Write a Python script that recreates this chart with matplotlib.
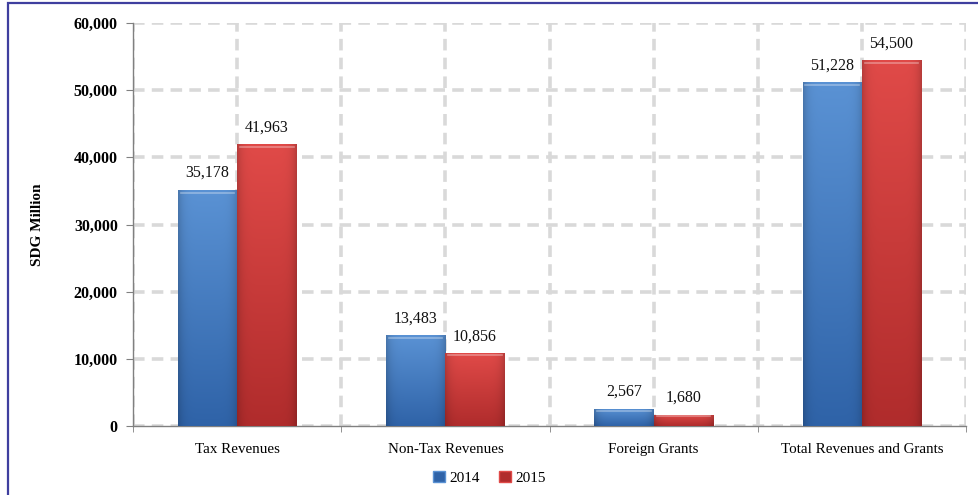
import numpy as np
import matplotlib
matplotlib.use("Agg")
import matplotlib.pyplot as plt
from matplotlib.patches import Rectangle, Patch
from matplotlib.ticker import FuncFormatter, MultipleLocator, FixedLocator

categories = ["Tax Revenues", "Non-Tax Revenues", "Foreign Grants",
              "Total Revenues and Grants"]
years = ["2014", "2015"]
values_2014 = [35178, 13483, 2567, 51228]
values_2015 = [41963, 10856, 1680, 54500]

plt.rcParams['font.family'] = ['Liberation Serif', 'DejaVu Serif']

# (top colour, bottom colour) of the shaded bars
shades = {
    "2014": ("#5a92d4", "#2f63a8"),
    "2015": ("#e04a48", "#b02c2c"),
}

fig = plt.figure(figsize=(9.79, 4.95), dpi=100)
ax = fig.add_axes([0.1359, 0.1394, 0.8508, 0.8141])

# thin blue frame round the chart
fig.patches.append(Rectangle((8 / 979, -0.05), 1.2, 1.05 - 3 / 495,
                             transform=fig.transFigure, fill=False,
                             edgecolor="#3f3f9f", linewidth=1.6))

x = np.arange(len(categories))
width = 0.285


def shaded_bars(xpos, vals, year):
    top, bottom = shades[year]
    bars = ax.bar(xpos, vals, width, align="edge", color=bottom,
                  edgecolor="none", zorder=3, label=year)
    c_top = np.array(matplotlib.colors.to_rgb(top))
    c_bot = np.array(matplotlib.colors.to_rgb(bottom))
    t = np.linspace(0, 1, 64)[:, None, None]
    # vertical fade plus darker side edges
    img = c_top * (1 - t) + c_bot * t
    h = np.linspace(-1, 1, 64)
    side = 1 - 0.18 * np.abs(h) ** 6
    img = img * side[None, :, None]
    for b in bars:
        x0, y0 = b.get_x(), b.get_y()
        w, hgt = b.get_width(), b.get_height()
        im = ax.imshow(img, extent=(x0, x0 + w, y0, y0 + hgt), origin="upper",
                       aspect="auto", zorder=3.5, interpolation="bilinear")
        im.set_clip_path(b)
        # light bevel along the top
        ax.plot([x0 + w * 0.05, x0 + w * 0.95], [y0 + hgt * 0.995 - 250] * 2,
                color="white", alpha=0.35, lw=1.2, zorder=4)
    return bars


b1 = shaded_bars(x - width, values_2014, "2014")
b2 = shaded_bars(x, values_2015, "2015")

for xpos, vals in ((x - width / 2, values_2014), (x + width / 2, values_2015)):
    for xi, v in zip(xpos, vals):
        ax.text(xi, v + 1300, f"{v:,}", ha="center", va="bottom",
                fontsize=11.5, color="#111111", zorder=5)

ax.set_xlim(-0.5, len(categories) - 0.5)
ax.set_ylim(0, 60000)
ax.yaxis.set_major_locator(MultipleLocator(10000))
ax.yaxis.set_major_formatter(FuncFormatter(lambda v, p: f"{int(v):,}"))
ax.set_xticks(x)
ax.set_xticklabels(categories, fontsize=10.8)
ax.xaxis.set_minor_locator(FixedLocator(np.arange(-0.5, len(categories), 1.0)))
ax.tick_params(axis="x", which="major", length=0, pad=12)
ax.tick_params(axis="x", which="minor", length=4, color="#808080",
               direction="out")
ax.tick_params(axis="y", length=5, color="#808080", labelsize=11.5, pad=6)
for lab in ax.get_yticklabels():
    lab.set_fontweight("semibold")

ax.grid(True, which="both", axis="x", color="#d9d9d9", lw=2.6,
        ls=(0, (3.2, 2.0)), zorder=0)
ax.grid(True, which="major", axis="y", color="#d9d9d9", lw=2.6,
        ls=(0, (3.2, 2.0)), zorder=0)
ax.set_axisbelow(True)

for side in ("top", "right"):
    ax.spines[side].set_visible(False)
for side in ("left", "bottom"):
    ax.spines[side].set_color("#808080")
    ax.spines[side].set_linewidth(1.0)

ax.set_ylabel("SDG Million", fontsize=11, fontweight="bold")
ax.yaxis.set_label_coords(-0.107, 0.5)

handles = [Patch(facecolor=shades[y][1], edgecolor=shades[y][0]) for y in years]
fig.legend(handles, years, loc="center", bbox_to_anchor=(0.5, 0.035),
           ncol=2, frameon=False, fontsize=11, handlelength=0.8,
           handleheight=0.8, handletextpad=0.3, columnspacing=1.2)

fig.savefig("out.png", dpi=100)
